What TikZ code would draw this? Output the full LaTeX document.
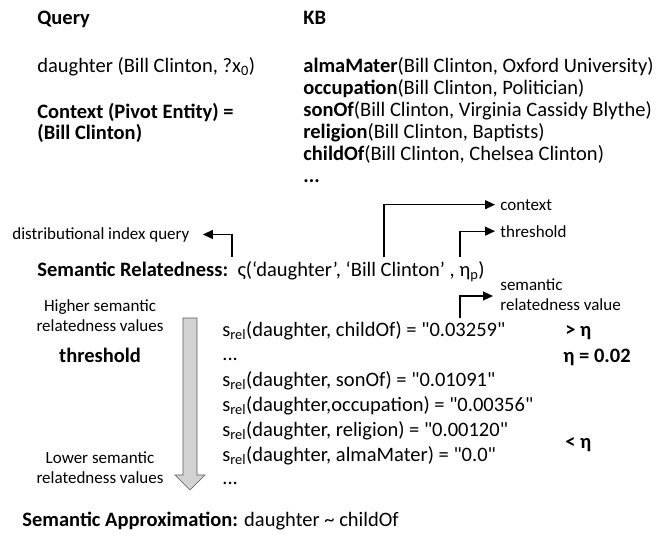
\documentclass[tikz,border=0pt]{standalone}
\usepackage{fontspec}
\setmainfont{Carlito}
\usetikzlibrary{arrows.meta}
\tikzset{every picture/.style={line width=0.75pt}}
\tikzset{
  txt/.style={anchor=base west, inner sep=0pt, font=\fontsize{20.5}{24}\selectfont},
  small/.style={anchor=base west, inner sep=0pt, font=\fontsize{17}{20}\selectfont},
  smallc/.style={anchor=base, inner sep=0pt, font=\fontsize{17}{20}\selectfont},
  lead/.style={-{Triangle[length=10pt,width=9pt]}, line width=1.1pt}
}

\begin{document}
\begin{tikzpicture}[x=1pt, y=-1pt]
\useasboundingbox (0,0) rectangle (660,538);
% query side
\node[txt] (qhead) at (37,24) {\textbf{Query}};
\node[txt] (query) at (37,72) {daughter (Bill Clinton, ?x\textsubscript{0})};
\node[txt] (ctxa) at (37,118) {\textbf{Context (Pivot Entity) =}};
\node[txt] (ctxb) at (37,139) {\textbf{(Bill Clinton)}};
% knowledge base
\node[txt] (kbhead) at (303,24) {\textbf{KB}};
\node[txt] (kb1) at (303,72) {\textbf{almaMater}(Bill Clinton, Oxford University)};
\node[txt] (kb2) at (303,94) {\textbf{occupation}(Bill Clinton, Politician)};
\node[txt] (kb3) at (303,116) {\textbf{sonOf}(Bill Clinton, Virginia Cassidy Blythe)};
\node[txt] (kb4) at (303,138) {\textbf{religion}(Bill Clinton, Baptists)};
\node[txt] (kb5) at (303,160) {\textbf{childOf}(Bill Clinton, Chelsea Clinton)};
\node[txt] (kbdots) at (303,182) {\textbf{...}};
%
\node[txt] (semrel) at (37,276) {\textbf{Semantic Relatedness:}\ \ ς(‘daughter’, ‘Bill Clinton’ , η\textsubscript{p})};
\node[small] (dist) at (12,239) {distributional index query};
\node[small] (ctx) at (500,210) {context};
\node[small] (thr) at (500,237) {threshold};
\node[small] (srv) at (500,290) {semantic};
\node[small] (srvb) at (500,310) {relatedness value};
%
\coordinate (distfoot) at (232,257);
\coordinate (ctxfoot) at (384,257);
\coordinate (thrfoot) at (460,257);
\coordinate (srvfoot) at (460,318);
\draw[lead] (distfoot) |- ([xshift=13pt]dist.east);
\draw[lead] (ctxfoot) |- ([xshift=-5pt]ctx.west);
\draw[lead] (thrfoot) |- ([xshift=-5pt]thr.west);
\draw[lead] (srvfoot) |- (493,296);
% ranking
\node[smallc] (high) at (100,311) {Higher semantic};
\node[smallc] (highb) at (100,331) {relatedness values};
\node[txt, anchor=base] (thrlab) at (100,362) {\textbf{threshold}};
\node[smallc] (low) at (100,463) {Lower semantic};
\node[smallc] (lowb) at (100,483) {relatedness values};
\draw[fill=gray!35, draw=gray!70!black, line width=0.6pt]
  (183,318) -- (197,318) -- (197,475) -- (205,475) -- (190,490)
  -- (175,475) -- (183,475) -- cycle;
%
\node[txt] (s1) at (222,336) {s\textsubscript{rel}(daughter, childOf) = \textquotedbl0.03259\textquotedbl};
\node[txt] (s2) at (222,360) {...};
\node[txt] (s3) at (222,386) {s\textsubscript{rel}(daughter, sonOf) = \textquotedbl0.01091\textquotedbl};
\node[txt] (s4) at (222,411) {s\textsubscript{rel}(daughter,occupation) = \textquotedbl0.00356\textquotedbl};
\node[txt] (s5) at (222,436) {s\textsubscript{rel}(daughter, religion) = \textquotedbl0.00120\textquotedbl};
\node[txt] (s6) at (222,461) {s\textsubscript{rel}(daughter, almaMater) = \textquotedbl0.0\textquotedbl};
\node[txt] (s7) at (222,484) {...};
\node[txt] (gt) at (565,336) {\textbf{> η}};
\node[txt] (eta) at (563,362) {\textbf{η = 0.02}};
\node[txt] (lt) at (565,448) {\textbf{< η}};
%
\node[txt] (approx) at (22,526) {\textbf{Semantic Approximation:} daughter \textasciitilde{} childOf};
\end{tikzpicture}
\end{document}
